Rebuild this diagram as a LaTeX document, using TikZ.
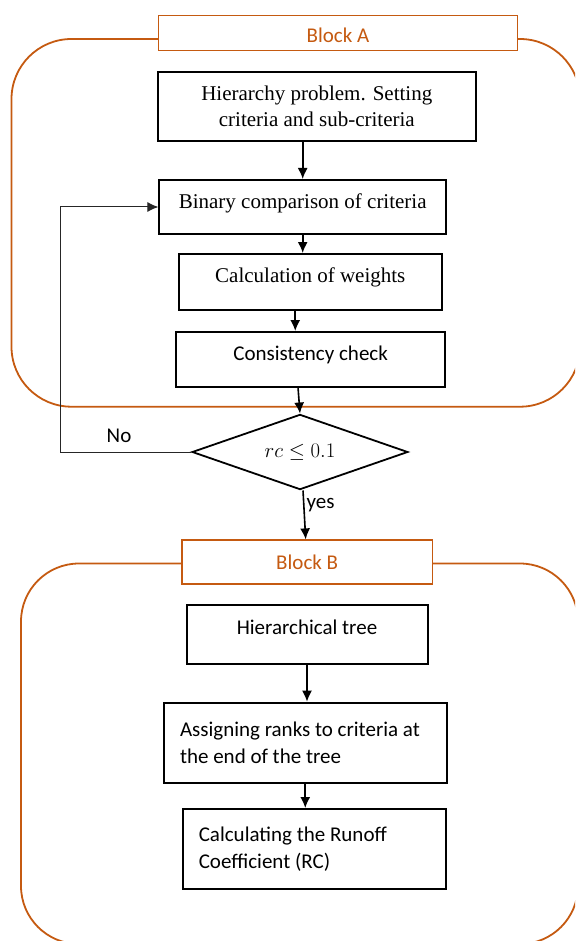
\documentclass[tikz,border=0pt]{standalone}
\usepackage{fontspec}
\setmainfont{Liberation Serif}
\newfontfamily\calibri{Carlito}
\usepackage{tikz}
\usetikzlibrary{shapes.geometric,positioning,calc,arrows.meta}
\definecolor{blockorange}{RGB}{197,90,17}

\begin{document}
\begin{tikzpicture}[x=1pt,y=-1pt,
    every node/.style={inner sep=0pt},
    procbox/.style={draw=black,line width=2pt,rectangle,anchor=north west,
        font=\fontsize{21}{26}\selectfont},
    sansbox/.style={procbox,font=\calibri\fontsize{21}{27.5}\selectfont,
        execute at begin node={\spaceskip=0pt\xspaceskip=0pt}},
    decision/.style={draw=black,line width=1.8pt,diamond,aspect=2.87,
        minimum width=215.8pt,minimum height=75.2pt,font=\fontsize{20}{24}\selectfont},
    blockframe/.style={draw=blockorange,line width=1.8pt,rounded corners=60pt},
    blocklabel/.style={draw=blockorange,line width=1.2pt,fill=white,text=blockorange,
        font=\calibri\fontsize{21}{25}\selectfont,text height=14pt,text depth=0pt},
    flow/.style={-{Latex[length=11pt,width=10pt]},line width=1.6pt},
    ]
    \useasboundingbox (0,0) rectangle (575,941);
    \clip (0,0) rectangle (575,941);

    %block frames (cut by the page edge)
    \draw[blockframe] (11.5,39) rectangle (580,406.7);
    \draw[blockframe,rounded corners=58pt] (21,563.5) rectangle (578,944);

    %block A
    \node[blocklabel,minimum width=359.7pt,minimum height=35.4pt,text height=20pt]
        (labelA) at (338,33) {Block A};
    \node[procbox,minimum width=318.4pt,minimum height=69pt,align=center]
        (hier) at (156.6,71) {Hierarchy problem. Setting\\criteria and sub-criteria};
    \node[procbox,minimum width=286.6pt,text height=28pt,text depth=26pt]
        (binary) at (158.4,179) {Binary comparison of criteria};
    \node[procbox,minimum width=263.5pt,text height=28pt,text depth=28pt]
        (calc) at (177.5,253) {Calculation of weights};
    \node[sansbox,minimum width=268.7pt,text height=28pt,text depth=27pt]
        (consist) at (175.3,331) {Consistency check};

    %decision
    \node[decision] (check) at (300,452) {$rc \leq 0.1$};
    \coordinate (loop) at (60,300);

    %block B
    \node[blocklabel,minimum width=250.3pt,minimum height=44pt]
        (labelB) at (307.2,562) {Block B};
    \node[sansbox,minimum width=241pt,text height=29pt,text depth=30.4pt]
        (tree) at (185.5,604) {Hierarchical tree};
    \node[sansbox,minimum height=80pt,text width=250.5pt,inner xsep=16pt,align=left]
        (ranks) at (163,701.7) {Assigning ranks to criteria at\\the end of the tree};
    \node[sansbox,minimum height=80pt,text width=231.2pt,inner xsep=15.8pt,align=left]
        (runoff) at (182,808) {Calculating the Runoff\\Coefficient (RC)};

    %arrows and labels
    \draw[flow] (hier.south -| binary.north) -- (binary.north);
    \draw[flow] (binary.south) -- (binary.south |- calc.north);
    \draw[flow] ([xshift=-15pt]calc.south) -- ([xshift=-15pt]calc.south |- consist.north);
    \draw[flow] ([xshift=-12.6pt]consist.south) -- (check.north);

    \draw[flow,line width=1pt,draw=black!85] (check.west)
        -- node[pos=.55,above=9pt,font=\calibri\fontsize{21}{25}\selectfont] (no) {No}
        (check.west -| loop) |- (binary.west);

    \draw[flow] ([xshift=3pt]check.south)
        -- node[pos=.3,right=2pt,font=\calibri\fontsize{21}{25}\selectfont] (yes) {yes}
        ([xshift=-1.5pt]labelB.north);

    \draw[flow] (tree.south) -- (tree.south |- ranks.north);
    \draw[flow] (ranks.south) -- (ranks.south |- runoff.north);
\end{tikzpicture}
\end{document}
